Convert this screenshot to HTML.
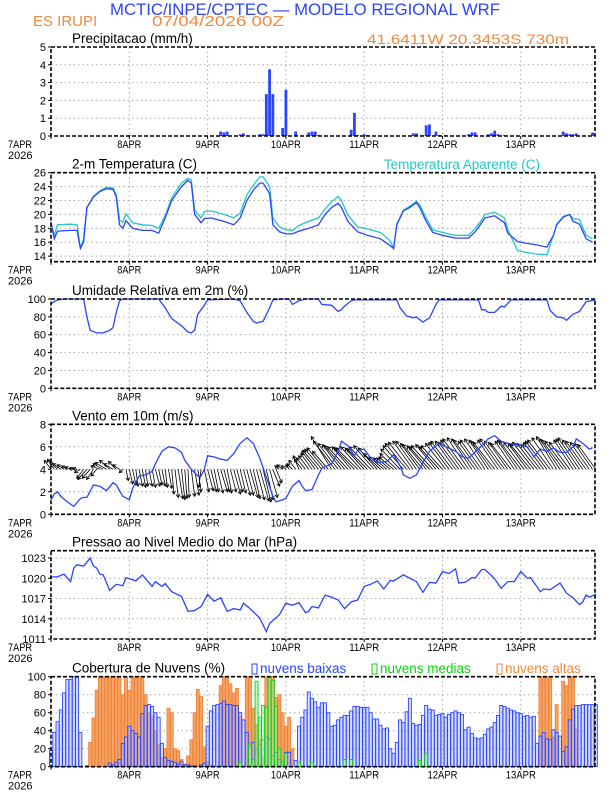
<!DOCTYPE html>
<html><head><meta charset="utf-8">
<style>
html,body{margin:0;padding:0;background:#fff;}
svg{display:block;font-family:"Liberation Sans",sans-serif;}
</style></head>
<body>
<svg id="chart" width="612" height="792" viewBox="0 0 612 792">
<text x="305" y="15" text-anchor="middle" font-size="16.5" fill="#2b44ff" textLength="390" lengthAdjust="spacingAndGlyphs">MCTIC/INPE/CPTEC — MODELO REGIONAL WRF</text>
<text x="33" y="26" font-size="15" fill="#f08a3c">ES IRUPI</text>
<text x="152" y="26" font-size="15" fill="#f08a3c" textLength="132" lengthAdjust="spacingAndGlyphs">07/04/2026 00Z</text>
<text x="569" y="44" text-anchor="end" font-size="14" fill="#f08a3c" textLength="202" lengthAdjust="spacingAndGlyphs">41.6411W 20.3453S 730m</text>
<g id="g"></g>
</svg>
<script>
// ---------- data ----------
const dayLabels = ["7APR","8APR","9APR","10APR","11APR","12APR","13APR"];
const yearLabel = "2026";
const precipHours = [20,24,52,53,54,58,59,64,65,66,67,68,71,72,75,79,80,81,82,92,93,94,96,97,111,112,114,115,116,118,119,121,128,129,130,134,135,136,137,139,145,157,158,159,160,161,166];
const precipVals  = [0.05,0.05,0.25,0.2,0.25,0.1,0.15,0.1,0.1,2.35,3.75,2.35,0.45,2.6,0.25,0.2,0.25,0.25,0.05,0.35,1.3,0.05,0.1,0.05,0.15,0.15,0.05,0.6,0.65,0.25,0.05,0.05,0.1,0.2,0.2,0.1,0.15,0.3,0.1,0.05,0.05,0.25,0.15,0.1,0.1,0.15,0.2];
const precipTicks = [0,1,2,3,4,5];
const tempHours = [0,1,2,6,8,9,10,11,13,15,17,19,20,21,22,23,25,28,31,33,35,37,40,42,43,44,46,47,49,53,56,58,60,62,64,65,67,68,70,72,74,76,79,82,84,86,88,89,91,94,97,101,104,105,106,108,110,112,113,115,117,120,124,128,130,132,133,136,139,140,143,145,149,152,154,155,157,159,160,162,164,166];
const tempVals  = [18.9,16.5,17.6,17.7,17.7,15.1,16.0,21.0,22.5,23.3,23.7,23.6,22.5,18.5,18.0,19.1,18.0,17.7,17.7,17.3,19.5,22.0,24.0,24.9,24.5,20.0,18.8,19.4,19.5,19.0,18.5,19.5,22.0,23.5,24.5,24.5,23.0,18.5,17.5,17.2,17.2,17.6,18.0,18.5,20.0,21.0,21.6,21.0,19.0,17.5,17.0,16.5,15.5,15.1,18.5,20.5,21.0,21.7,21.0,19.0,17.4,17.0,16.6,16.6,17.5,18.8,19.5,19.8,18.8,17.3,16.1,15.9,15.6,15.3,17.0,18.5,19.6,20.0,19.0,18.6,16.5,16.0];
const apparentVals = [18.7,17.0,18.5,18.6,18.5,15.2,16.5,21.0,22.6,23.4,23.9,23.8,22.8,19.2,18.9,20.1,18.8,18.5,18.4,18.0,19.8,22.4,24.5,25.2,25.0,20.6,19.5,20.4,20.5,20.0,19.5,20.2,22.8,24.2,25.4,25.4,24.0,19.5,18.2,17.8,17.7,18.4,19.0,19.5,20.8,21.8,22.6,22.0,19.9,18.2,17.9,17.4,16.2,15.1,18.6,20.6,21.2,21.9,21.4,19.5,17.8,17.4,17.0,17.0,18.0,19.2,20.0,20.3,19.5,17.8,14.8,14.6,14.3,14.2,17.0,18.6,19.7,20.0,19.4,19.3,17.0,16.5];
const tempTicks = [14,16,18,20,22,24,26];
const rhHours = [0,2,4,10,11,12,14,16,18,19,20,21,22,33,35,37,40,42,43,44,45,47,48,56,58,60,62,63,65,67,68,71,73,74,76,78,82,83,86,88,89,90,92,93,106,107,109,111,112,114,116,118,119,131,132,133,134,136,138,139,141,152,153,155,157,158,160,162,164,167];
const rhVals  = [95,99,100,100,80,65,62,62,65,68,85,98,100,100,90,78,70,63,62,65,83,93,99,100,98,85,75,73,75,90,99,100,100,94,98,100,100,94,93,86,88,92,98,99,99,90,81,79,80,74,79,94,99,99,88,88,85,85,92,91,99,99,87,80,79,76,83,86,97,99];
const rhTicks = [0,20,40,60,80,100];
const windHours = [0,1,2,3,5,7,9,10,11,13,15,17,19,20,22,24,25,27,29,31,32,34,36,38,40,41,43,45,46,47,48,50,52,54,56,58,60,62,64,66,68,69,71,72,74,76,77,78,80,82,83,86,88,89,91,93,94,96,98,100,103,105,107,108,110,112,114,116,119,121,124,126,128,131,134,136,138,140,143,146,148,150,152,154,156,158,160,161,163,165,166];
const windVals  = [1.3,1.8,2.0,1.6,1.1,0.7,1.4,1.5,1.5,2.6,2.5,2.1,2.8,2.6,1.6,1.3,2.3,3.4,3.5,3.8,4.5,5.6,6.0,5.9,5.5,4.8,4.0,3.4,3.4,4.0,5.2,5.1,4.9,4.8,5.4,6.3,6.8,6.3,5.0,3.3,1.6,1.1,1.3,1.4,2.5,3.0,2.5,2.1,2.2,3.5,4.1,4.5,5.6,6.5,6.1,5.2,5.7,5.8,5.0,4.6,4.7,5.3,4.3,3.5,3.2,3.5,4.6,5.6,6.3,6.0,5.6,5.1,5.0,5.8,6.7,7.0,6.5,6.3,6.2,6.0,5.1,5.8,5.6,5.9,5.5,5.5,6.0,6.7,6.3,5.8,5.9];
const windU = [-0.6,-0.6,-0.7,-0.7,-0.6,-0.5,-0.5,-0.4,-0.4,
 -0.5,-0.6,-0.8,-0.7,-0.6,-0.5,
 -0.8,-0.9,-1.0,-0.9,-0.8,-0.7,-0.6,-0.3,
 0.2,0.3,0.3,0.2,0.3,0.3,0.2,0.3,0.3,0.4,0.3,0.3,0.2,0.3,
 0.2,0.3,0.4,0.3,0.2,0.1,0.3,0.4,0.3,-0.2,
 0.4,0.5,0.5,0.4,0.5,0.6,0.5,0.4,0.5,0.6,0.5,0.5,0.6,
 0.6,0.7,0.6,0.7,0.8,0.7,0.6,0.7,0.6,0.5,
 -0.4,-0.5,-0.4,-0.3,-0.5,-0.6,-0.5,-0.7,-0.8,-0.9,-1.0,-1.2,
 -1.4,-1.5,-1.6,-1.4,-1.8,-1.9,-1.8,-1.7,-1.8,-1.8,-1.7,-1.8,-1.9,-1.8,-1.7,-1.8,-1.9,-1.8,-1.7,-1.5,
 -1.3,-1.2,-1.2,-1.3,-1.5,-1.7,-1.8,-1.9,-1.9,-1.8,-1.8,-1.7,-1.8,-1.7,-1.8,-1.9,-1.8,-1.8,-1.9,-1.8,
 -1.8,-1.9,-1.8,-1.8,-1.9,-2.0,-1.9,-1.8,-1.9,-1.8,-1.9,-1.8,-1.7,-1.8,-1.9,-1.8,-1.9,-1.8,-1.7,-1.8,
 -1.7,-1.8,-1.9,-1.8,-1.7,-1.8,-1.9,-1.8,-1.7,-1.8,-1.9,-2.0,-1.9,-1.8,-1.8,-1.9,-1.9,-1.8,-1.7,-1.8,
 -1.9,-1.8,-1.8,-1.7,-1.6,-1.6];
const windV = [0.8,0.9,0.7,0.5,0.4,0.3,0.2,0.1,0.1,
 -0.3,-0.8,-0.9,-0.8,-0.9,-0.6,
 0.3,0.5,0.6,0.8,0.5,0.7,0.4,-0.3,
 -1.0,-1.3,-1.4,-1.5,-1.5,-1.6,-1.5,-1.5,-1.6,-1.5,-1.4,-1.5,-1.6,-1.7,
 -2.2,-2.5,-2.6,-2.7,-2.6,-2.5,-2.4,-2.3,-2.0,-1.6,
 -2.0,-1.9,-2.0,-2.0,-2.1,-2.0,-2.0,-2.1,-2.0,-2.2,-2.0,-2.1,-2.3,
 -2.3,-2.5,-2.6,-2.7,-2.8,-2.9,-2.7,-2.5,-1.5,-1.2,
 0.3,0.4,0.3,0.4,0.5,0.8,1.2,0.9,1.0,1.2,1.4,1.6,
 1.7,1.8,1.9,1.6,2.9,2.5,2.3,2.2,2.1,2.0,
 2.0,1.9,1.9,2.0,1.9,1.8,2.0,2.1,1.9,1.4,
 1.1,1.0,1.0,1.1,1.4,1.8,2.1,2.3,2.4,2.5,
 2.5,2.3,2.2,2.1,2.0,2.1,2.2,2.0,2.1,2.3,
 2.4,2.5,2.5,2.4,2.6,2.7,2.8,2.7,2.6,2.5,
 2.6,2.7,2.6,2.5,2.4,2.6,2.7,2.5,2.4,2.3,
 2.5,2.6,2.5,2.4,2.3,2.2,2.4,2.3,2.2,2.4,
 2.5,2.6,2.8,2.9,2.7,2.6,2.5,2.4,2.6,2.7,
 2.8,2.6,2.5,2.4,2.3,2.2];
const windTicks = [0,2,4,6,8];
const presHours = [0,2,4,6,7,8,10,12,13,14,15,16,18,20,22,23,26,28,31,32,34,35,37,40,42,44,46,48,50,52,54,56,58,59,61,64,66,67,70,72,74,76,78,79,80,82,84,86,88,90,92,94,96,98,100,102,104,105,108,112,114,116,118,120,122,124,125,127,129,130,132,133,135,136,138,140,142,144,146,147,150,151,153,156,158,160,162,163,164,165,167];
const presVals  = [1020.2,1020.2,1020.6,1019.5,1021.5,1022.0,1021.8,1023.0,1021.8,1021.5,1020.6,1020.5,1018.2,1019.1,1018.9,1020.1,1019.6,1020.5,1018.8,1019.5,1018.8,1019.2,1018.0,1017.3,1015.1,1015.2,1015.8,1017.6,1016.6,1017.1,1015.1,1015.5,1015.3,1016.3,1015.5,1014.1,1012.1,1013.3,1014.6,1016.3,1016.0,1016.4,1014.9,1015.1,1015.8,1015.6,1017.5,1017.2,1016.8,1015.5,1016.5,1016.8,1018.8,1019.1,1019.6,1018.4,1019.7,1019.6,1020.5,1019.5,1017.9,1019.4,1019.3,1021.0,1020.7,1021.4,1019.3,1019.4,1020.1,1020.0,1021.3,1021.3,1020.4,1019.9,1018.5,1019.5,1019.5,1021.0,1020.0,1020.1,1018.0,1018.4,1018.3,1019.3,1017.8,1017.1,1016.1,1016.5,1017.5,1017.2,1017.6];
const presTicks = [1011,1014,1017,1020,1023];
const lowCloud = [18,38,50,63,82,97,97,100,100,38,0,1,0,0,0,0,0,0,4,2,5,8,26,33,
 45,40,37,33,59,68,69,67,60,55,26,10,7,6,5,3,6,2,2,1,1,0,2,4,
 45,62,68,69,70,73,69,69,68,68,60,52,38,22,27,19,24,30,33,31,12,16,8,2,
 16,16,0,7,45,55,63,83,76,72,66,71,71,60,45,46,52,55,57,57,62,67,67,66,
 66,66,60,53,53,46,42,43,20,15,27,52,49,61,76,48,46,47,57,68,64,63,57,58,
 59,55,58,60,62,60,58,41,44,37,32,31,32,36,42,44,49,57,68,67,65,63,62,60,
 59,56,57,55,56,26,34,38,31,30,41,38,34,17,22,52,64,68,68,69,69,69,69,69];
const highCloud = [0,0,0,0,0,0,0,0,0,0,0,0,
 27,54,85,100,100,100,100,100,100,100,80,100,85,100,100,100,100,80,60,56,40,25,10,20,65,
 60,20,18,8,3,12,30,60,86,78,22,6,2,0,0,90,100,100,92,82,87,56,
 0,100,100,65,47,30,10,100,100,100,77,80,60,45,55,20,
 0,0,0,0,0,0,0,0,0,0,0,0,0,0,0,0,0,0,0,0,0,0,0,0,0,0,0,0,0,0,0,0,0,0,0,0,0,0,0,0,0,0,0,0,0,0,0,0,0,0,0,0,0,0,0,0,0,0,0,0,0,0,0,0,0,0,0,0,0,0,0,0,0,0,0,
 100,100,100,100,33,69,0,95,90,100,100,42,0,0,0,0,0,0];
const midHours = [58,61,62,63,64,65,66,67,68,69,70,71,72,76,80,90,92,113,115];
const midVals  = [5,25,8,95,55,68,66,100,96,67,20,5,15,5,5,8,8,7,15];
const cloudTicks = [0,20,40,60,80,100];

// ---------- layout ----------
const NS = "http://www.w3.org/2000/svg";
const G = document.getElementById('g');
const X0 = 51, PXH = 3.2625, XR = 595;
function xh(h){ return X0 + h*PXH; }
function el(tag, attrs, parent){
  const e = document.createElementNS(NS, tag);
  for (const k in attrs) e.setAttribute(k, attrs[k]);
  (parent||G).appendChild(e);
  return e;
}
const BLUE = "#2b44ff", CYAN = "#22c8c8", ORANGE = "#f08a3c";

function panel(name, top, bottom, ymin, ymax, ticks, title, fmt){
  const g = el('g', {});
  
  
  const y = v => bottom - (v - ymin) / (ymax - ymin) * (bottom - top);
  // grid
  for (let d = 1; d < 7; d++) {
    const gl = el('line', {x1: xh(d*24), x2: xh(d*24), y1: top, y2: bottom, stroke: "#aaa", "stroke-dasharray": "1.5,3", "stroke-width": 1}, g);
    
    
  }
  ticks.forEach(t => {
    if (t !== ymin && t !== ymax) {
      const gl = el('line', {x1: X0, x2: XR, y1: y(t), y2: y(t), stroke: "#aaa", "stroke-dasharray": "1.5,3", "stroke-width": 1}, g);
      
      
    }
    const tk = el('line', {x1: X0-3, x2: X0, y1: y(t), y2: y(t), stroke: "#000"}, g);
    
    
    const tl = el('text', {x: X0-5, y: y(t)+4, "text-anchor": "end", "font-size": 11}, g);
    tl.textContent = fmt ? fmt(t) : t;
    
    
  });
  // x labels
  dayLabels.forEach((lab, i) => {
    const xt = el('line', {x1: xh(i*24), x2: xh(i*24), y1: bottom, y2: bottom+3, stroke: "#000"}, g);
    
    
    const t = el('text', {x: i === 0 ? 8 : xh(i*24), y: bottom+12, "text-anchor": i === 0 ? "start" : "middle", "font-size": 11, textLength: lab.length*6, lengthAdjust: "spacingAndGlyphs"}, g);
    t.textContent = lab;
    
    
  });
  const yr = el('text', {x: 8, y: bottom+23, "font-size": 11}, g);
  yr.textContent = yearLabel;
  
  
  const tt = el('text', {x: 72, y: top-4, "font-size": 13.5}, g);
  tt.textContent = title;
  
  
  const plot = el('g', {}, g);
  
  
  // frame drawn last
  const fr = () => {
    const f = el('rect', {x: X0, y: top, width: XR-X0, height: bottom-top, fill: "none", stroke: "#000", "stroke-width": 1.6, "stroke-dasharray": "4,2"}, g);
    
    
  };
  return {g: plot, y, fr, top, bottom};
}
function line(p, hours, vals, color, name){
  const d = hours.map((h, i) => (i ? "L" : "M") + xh(h).toFixed(1) + "," + p.y(vals[i]).toFixed(1)).join("");
  const pl = el('path', {d, fill: "none", stroke: color, "stroke-width": 1.3}, p.g);
  
  
}

// Panel 1: precipitation
const p1 = panel('precipitation', 47, 136, 0, 5, precipTicks, 'Precipitacao (mm/h)');
precipHours.forEach((h, i) => {
  const r = el('rect', {x: xh(h)-1.4, y: p1.y(precipVals[i]), width: 2.8, height: p1.bottom - p1.y(precipVals[i]), fill: BLUE}, p1.g);
  
  
});
p1.fr();

// Panel 2: temperature
const p2 = panel('temperature', 172.7, 261.7, 13.2, 26, tempTicks, '2-m Temperatura (C)');
line(p2, tempHours, apparentVals, CYAN, 'apparent-temperature-line');
line(p2, tempHours, tempVals, BLUE, 'temperature-line');
const at = el('text', {x: 540, y: 169, "text-anchor": "end", "font-size": 13.5, fill: CYAN}, p2.g);
at.textContent = 'Temperatura Aparente (C)';


p2.fr();

// Panel 3: humidity
const p3 = panel('humidity', 299, 388.3, 0, 100, rhTicks, 'Umidade Relativa em 2m (%)');
line(p3, rhHours, rhVals, BLUE, 'humidity-line');
p3.fr();

// Panel 4: wind
const p4 = panel('wind', 424.3, 514.3, 0, 8, windTicks, 'Vento em 10m (m/s)');
const pxu = (p4.bottom - p4.top) / 8;
windV.forEach((v, h) => {
  const u = windU[h] || 0;
  const x1 = xh(h), y1 = p4.y(4);
  const x2 = x1 + u*pxu, y2 = p4.y(4 + v);
  const ar = el('line', {x1, y1, x2, y2, stroke: "#000", "stroke-width": 0.8}, p4.g);
  
  
  const ang = Math.atan2(y2-y1, x2-x1), L = 3.5;
  const hd = el('path', {d: `M${x2 + L*Math.cos(ang+2.6)},${y2 + L*Math.sin(ang+2.6)}L${x2},${y2}L${x2 + L*Math.cos(ang-2.6)},${y2 + L*Math.sin(ang-2.6)}`, fill: "none", stroke: "#000", "stroke-width": 0.9}, p4.g);
  
  
});
line(p4, windHours, windVals, BLUE, 'wind-speed-line');
p4.fr();

// Panel 5: pressure
const p5 = panel('pressure', 550.7, 639, 1011, 1023 + (1023-1011)*(558-550.7)/(639-558), presTicks, 'Pressao ao Nivel Medio do Mar (hPa)');
line(p5, presHours, presVals, BLUE, 'pressure-line');
p5.fr();

// Panel 6: clouds
const p6 = panel('clouds', 676.7, 766.7, 0, 100, cloudTicks, 'Cobertura de Nuvens (%)');
highCloud.forEach((v, h) => {
  if (!v) return;
  const r = el('rect', {x: xh(h)-1.5, y: p6.y(v), width: 3, height: p6.bottom - p6.y(v), fill: "#f4a368", stroke: "#f07f2a", "stroke-width": 0.8}, p6.g);
  
  
});
lowCloud.forEach((v, h) => {
  const r = el('rect', {x: xh(h)-1.5, y: p6.y(v), width: 3, height: p6.bottom - p6.y(v), fill: "rgba(170,185,255,0.45)", stroke: BLUE, "stroke-width": 0.9}, p6.g);
  
  
});
midHours.forEach((h, i) => {
  const v = midVals[i];
  const r = el('rect', {x: xh(h)-1.5, y: p6.y(v), width: 3, height: p6.bottom - p6.y(v), fill: "rgba(150,240,150,0.5)", stroke: "#10d010", "stroke-width": 0.9}, p6.g);
  
  
});
const legends = [["nuvens baixas", BLUE, 252], ["nuvens medias", "#10d010", 372], ["nuvens altas", ORANGE, 497]];
legends.forEach(([lab, col, lx]) => {
  const b = el('rect', {x: lx, y: 664, width: 5, height: 10, fill: "none", stroke: col, "stroke-width": 1}, p6.g);
  
  
  const t = el('text', {x: lx+8, y: 673, "font-size": 13.5, fill: col}, p6.g);
  t.textContent = lab;
  
  
});
p6.fr();
</script>
</body></html>
